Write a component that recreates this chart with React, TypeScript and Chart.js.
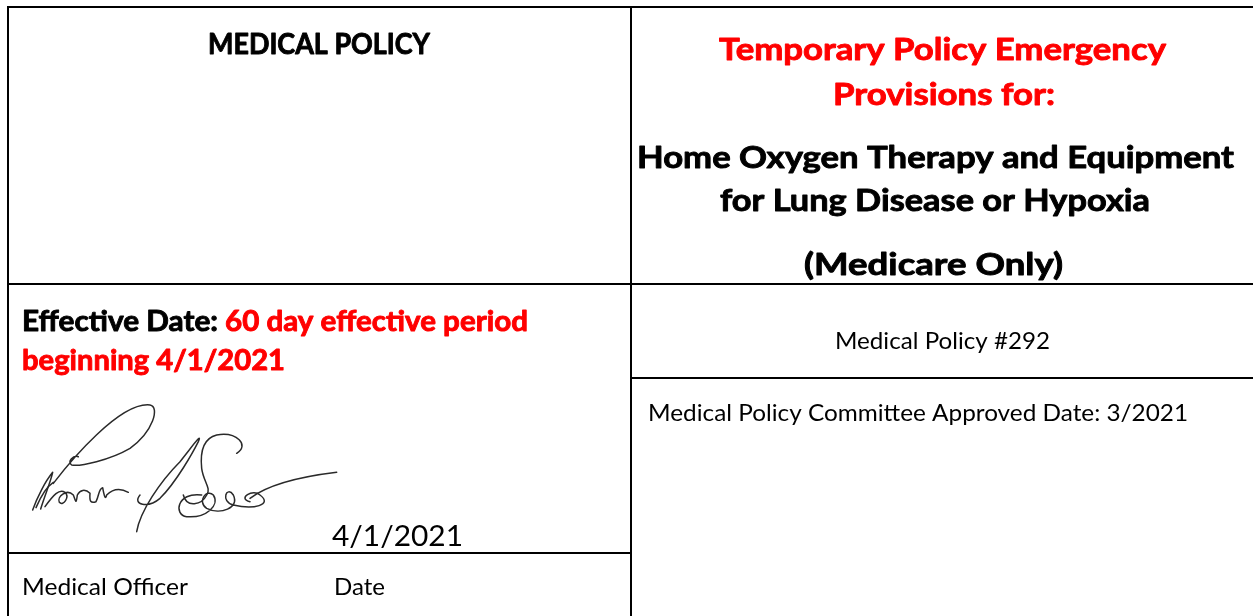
import React, { useEffect, useRef } from "react";
import { Chart, registerables } from "chart.js";

Chart.register(...registerables);

// ---- table rules (page pixel units) ----
const H_RULES = [
  { y: 7, x1: 7, x2: 1260 },
  { y: 284, x1: 7, x2: 1260 },
  { y: 378, x1: 631, x2: 1260 },
  { y: 553, x1: 7, x2: 631 },
];
const V_RULES = [
  { x: 8, y1: 6, y2: 620 },
  { x: 631, y1: 6, y2: 620 },
];

// ---- text content ----
const LEFT_TITLE = ["MEDICAL POLICY"];
const RIGHT_RED_TITLE = ["Temporary Policy Emergency", "Provisions for:"];
const RIGHT_BLACK_TITLE = ["Home Oxygen Therapy and Equipment", "for Lung Disease or Hypoxia", "(Medicare Only)"];
const EFFECTIVE_LABEL = "Effective Date: ";
const EFFECTIVE_VALUE = ["60 day effective period", "beginning 4/1/2021"];
const POLICY_NUMBER = "Medical Policy #292";
const APPROVED = "Medical Policy Committee Approved Date: 3/2021";
const SIGN_DATE = "4/1/2021";
const FOOTER_LABELS = ["Medical Officer", "Date"];

// ---- text layout ----
type TL = { t: string; x: number; y: number; a: CanvasTextAlign; s: number; b: boolean; c: string; w: number };
const RED = "#ff0000";
const TEXTS: TL[] = [
  { t: LEFT_TITLE[0], x: 319, y: 54, a: "center", s: 32, b: true, c: "#000", w: 222 },
  { t: RIGHT_RED_TITLE[0], x: 942.5, y: 59.5, a: "center", s: 35, b: true, c: RED, w: 447 },
  { t: RIGHT_RED_TITLE[1], x: 944, y: 105, a: "center", s: 35, b: true, c: RED, w: 222 },
  { t: RIGHT_BLACK_TITLE[0], x: 935.5, y: 167.5, a: "center", s: 35, b: true, c: "#000", w: 597 },
  { t: RIGHT_BLACK_TITLE[1], x: 935, y: 211, a: "center", s: 35, b: true, c: "#000", w: 430 },
  { t: RIGHT_BLACK_TITLE[2], x: 933.5, y: 275, a: "center", s: 35, b: true, c: "#000", w: 259 },
  { t: EFFECTIVE_LABEL.trim(), x: 22, y: 330.5, a: "left", s: 32, b: true, c: "#000", w: 196 },
  { t: EFFECTIVE_VALUE[0], x: 225, y: 330.5, a: "left", s: 32, b: true, c: RED, w: 303 },
  { t: EFFECTIVE_VALUE[1], x: 22, y: 370, a: "left", s: 32, b: true, c: RED, w: 263 },
  { t: POLICY_NUMBER, x: 942.5, y: 349, a: "center", s: 26.7, b: false, c: "#000", w: 215 },
  { t: APPROVED, x: 648, y: 421, a: "left", s: 26.7, b: false, c: "#000", w: 540 },
  { t: SIGN_DATE, x: 332, y: 546, a: "left", s: 32, b: false, c: "#000", w: 131 },
  { t: FOOTER_LABELS[0], x: 22, y: 595, a: "left", s: 26.7, b: false, c: "#000", w: 166 },
  { t: FOOTER_LABELS[1], x: 334, y: 595, a: "left", s: 26.7, b: false, c: "#000", w: 51 },
];

// ---- signature strokes (cubic segments, in a 3x sketch grid anchored at 20,395) ----
const SIG_ORIGIN = { x: 20, y: 395, k: 1 / 3 };
const SIG_STROKES: number[][] = [
  [38, 345, 50, 310, 75, 260, 98, 232, 92, 260, 75, 300, 62, 342],
  [48, 338, 62, 305, 80, 275, 100, 262],
  [100, 265, 150, 200, 300, 20, 390, 30, 420, 35, 400, 110, 330, 160, 270, 195, 180, 215, 155, 210, 140, 200, 160, 180, 175, 185],
  [75, 335, 100, 300, 118, 280, 135, 292, 150, 305, 130, 335, 118, 322, 110, 305, 140, 280, 160, 300, 168, 320, 168, 330, 172, 300, 180, 285, 195, 280, 210, 295, 208, 320, 212, 325, 228, 320, 238, 300, 236, 280, 248, 278, 252, 300, 256, 318, 260, 300, 280, 280, 300, 278, 325, 292],
  [350, 410, 360, 350, 420, 260, 480, 200, 520, 150, 548, 110, 535, 140, 520, 170, 470, 260, 420, 310, 385, 340, 335, 330, 360, 300],
  [650, 175, 690, 150, 650, 110, 590, 120, 550, 130, 540, 170, 545, 220, 550, 260, 575, 280, 560, 300, 545, 330, 500, 340, 490, 300],
  [545, 300, 470, 290, 460, 360, 500, 365, 560, 370, 600, 330, 580, 300, 560, 280, 530, 320, 560, 340, 600, 360, 660, 340, 640, 300, 620, 270, 600, 320, 640, 330, 700, 345, 760, 330, 720, 300, 700, 280, 650, 310, 690, 320],
  [690, 310, 730, 280, 800, 250, 950, 232],
];

const FONT_STACK = 'Lato, "Open Sans", sans-serif';
const CAP_FACTOR = 0.644 / 0.72;

const textPlugin = {
  id: "docText",
  afterDatasetsDraw(chart: any) {
    const ctx: CanvasRenderingContext2D = chart.ctx;
    const xs = chart.scales.x;
    const ys = chart.scales.y;
    ctx.save();
    // signature
    ctx.strokeStyle = "#2a2a2a";
    ctx.lineWidth = 1.5;
    ctx.lineCap = "round";
    ctx.lineJoin = "round";
    const px = (v: number) => xs.getPixelForValue(SIG_ORIGIN.x + v * SIG_ORIGIN.k);
    const py = (v: number) => ys.getPixelForValue(SIG_ORIGIN.y + v * SIG_ORIGIN.k);
    for (const s of SIG_STROKES) {
      ctx.beginPath();
      ctx.moveTo(px(s[0]), py(s[1]));
      for (let i = 2; i + 5 < s.length; i += 6) {
        ctx.bezierCurveTo(px(s[i]), py(s[i + 1]), px(s[i + 2]), py(s[i + 3]), px(s[i + 4]), py(s[i + 5]));
      }
      ctx.stroke();
    }
    // texts
    ctx.textBaseline = "alphabetic";
    ctx.lineJoin = "round";
    for (const t of TEXTS) {
      const size = t.s * CAP_FACTOR;
      ctx.font = `${t.b ? "bold " : ""}${size.toFixed(2)}px ${FONT_STACK}`;
      ctx.fillStyle = t.c;
      ctx.strokeStyle = t.c;
      const w = ctx.measureText(t.t).width;
      const sx = w > 0 ? t.w / w : 1;
      const x = xs.getPixelForValue(t.x);
      const y = ys.getPixelForValue(t.y);
      ctx.save();
      ctx.translate(x, y);
      ctx.scale(sx, 1);
      ctx.textAlign = t.a;
      ctx.fillText(t.t, 0, 0);
      if (t.b) {
        ctx.lineWidth = 0.9;
        ctx.strokeText(t.t, 0, 0);
      }
      ctx.restore();
    }
    ctx.restore();
  },
};

export default function App() {
  const ref = useRef<HTMLCanvasElement | null>(null);
  useEffect(() => {
    document.body.style.margin = "0";
    document.body.style.background = "#fff";
    const canvas = ref.current;
    if (!canvas) return;
    const datasets: any[] = [];
    for (const h of H_RULES) {
      datasets.push({
        data: [{ x: h.x1, y: h.y }, { x: h.x2, y: h.y }],
        showLine: true, borderColor: "#000", borderWidth: 2, pointRadius: 0, clip: false,
      });
    }
    for (const v of V_RULES) {
      datasets.push({
        data: [{ x: v.x, y: v.y1 }, { x: v.x, y: v.y2 }],
        showLine: true, borderColor: "#000", borderWidth: 2, pointRadius: 0, clip: false,
      });
    }
    const chart = new Chart(canvas, {
      type: "scatter",
      data: { datasets },
      options: {
        animation: false,
        responsive: false,
        maintainAspectRatio: false,
        devicePixelRatio: 1,
        layout: { padding: 0 },
        events: [],
        scales: {
          x: { type: "linear", min: 0, max: 1253, display: false },
          y: { type: "linear", min: 0, max: 616, reverse: true, display: false },
        },
        plugins: { legend: { display: false }, tooltip: { enabled: false } },
      },
      plugins: [textPlugin],
    } as any);
    return () => chart.destroy();
  }, []);
  return (
    <div style={{ width: 1253, height: 616, background: "#fff" }}>
      <canvas ref={ref} width={1253} height={616} style={{ display: "block" }} />
    </div>
  );
}
